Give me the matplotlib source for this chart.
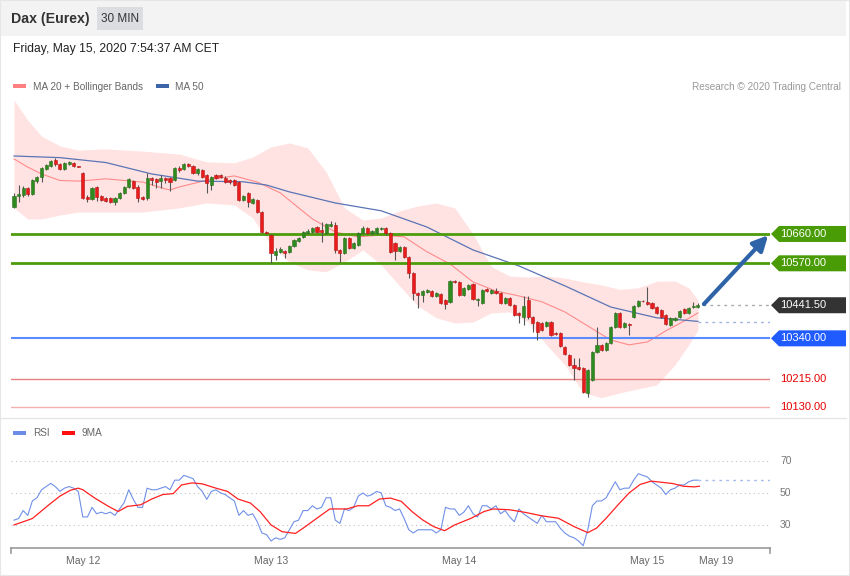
import numpy as np
import matplotlib.pyplot as plt
from matplotlib.patches import Polygon, Rectangle
from matplotlib.lines import Line2D
from matplotlib.transforms import IdentityTransform

plt.rcParams['font.family'] = ['Liberation Sans', 'DejaVu Sans']

# Dax (Eurex) 30 min candles, May 11 afternoon -> May 15 morning
opens = [10743, 10776, 10779, 10801, 10783, 10822, 10835, 10859, 10868, 10887,
         10875, 10859, 10875, 10878, 10866, 10847, 10773, 10767, 10804, 10776,
         10770, 10770, 10758, 10770, 10786, 10804, 10822, 10804, 10773, 10770,
         10832, 10829, 10822, 10832, 10832, 10825, 10862, 10859, 10875, 10868,
         10847, 10856, 10841, 10810, 10841, 10841, 10832, 10825, 10825, 10819,
         10764, 10786, 10755, 10764, 10727, 10666, 10657, 10596, 10605, 10608,
         10605, 10623, 10639, 10651, 10663, 10666, 10682, 10672, 10663, 10685,
         10688, 10611, 10602, 10648, 10617, 10626, 10663, 10678, 10663, 10663,
         10675, 10678, 10663, 10632, 10608, 10620, 10590, 10541, 10479, 10473,
         10482, 10485, 10470, 10476, 10458, 10452, 10516, 10513, 10473, 10492,
         10507, 10458, 10449, 10492, 10479, 10485, 10479, 10449, 10464, 10442,
         10418, 10406, 10458, 10406, 10390, 10387, 10378, 10390, 10357, 10357,
         10314, 10289, 10259, 10253, 10249, 10173, 10213, 10298, 10320, 10305,
         10326, 10375, 10418, 10375, 10384, 10406, 10439, 10455, 10452, 10449,
         10436, 10427, 10412, 10381, 10397, 10406, 10430, 10418, 10436, 10436]
closes = [10776, 10783, 10801, 10783, 10825, 10835, 10862, 10871, 10884, 10875,
          10859, 10878, 10881, 10868, 10865, 10770, 10767, 10801, 10773, 10764,
          10761, 10758, 10770, 10786, 10804, 10829, 10801, 10770, 10767, 10832,
          10825, 10819, 10832, 10825, 10819, 10862, 10856, 10875, 10868, 10847,
          10859, 10835, 10816, 10835, 10832, 10835, 10819, 10819, 10810, 10764,
          10776, 10758, 10767, 10727, 10666, 10663, 10602, 10608, 10614, 10602,
          10623, 10642, 10648, 10666, 10669, 10678, 10666, 10666, 10691, 10691,
          10611, 10602, 10648, 10617, 10632, 10663, 10678, 10663, 10669, 10678,
          10678, 10663, 10605, 10608, 10620, 10590, 10541, 10479, 10473, 10485,
          10488, 10470, 10479, 10449, 10446, 10516, 10513, 10473, 10495, 10504,
          10461, 10461, 10488, 10485, 10488, 10479, 10449, 10464, 10442, 10412,
          10412, 10439, 10406, 10387, 10360, 10366, 10390, 10351, 10354, 10317,
          10292, 10259, 10249, 10246, 10176, 10243, 10298, 10320, 10305, 10326,
          10375, 10418, 10375, 10387, 10381, 10439, 10455, 10454, 10446, 10433,
          10418, 10406, 10384, 10403, 10403, 10424, 10418, 10433, 10439, 10441.5]
highs = [10786, 10810, 10807, 10804, 10829, 10838, 10865, 10875, 10887, 10893,
         10878, 10881, 10884, 10881, 10867, 10850, 10779, 10804, 10807, 10779,
         10773, 10773, 10773, 10789, 10807, 10832, 10825, 10810, 10776, 10847,
         10835, 10832, 10841, 10835, 10835, 10865, 10868, 10878, 10878, 10871,
         10862, 10859, 10844, 10838, 10844, 10844, 10838, 10829, 10829, 10822,
         10779, 10789, 10770, 10767, 10731, 10669, 10660, 10617, 10620, 10611,
         10626, 10645, 10651, 10669, 10675, 10682, 10685, 10697, 10694, 10700,
         10697, 10614, 10651, 10651, 10636, 10666, 10685, 10682, 10672, 10682,
         10682, 10682, 10666, 10636, 10623, 10623, 10593, 10544, 10482, 10488,
         10492, 10488, 10482, 10479, 10461, 10519, 10519, 10516, 10498, 10507,
         10510, 10464, 10492, 10495, 10492, 10495, 10482, 10467, 10467, 10446,
         10421, 10470, 10470, 10409, 10393, 10390, 10393, 10393, 10360, 10360,
         10317, 10292, 10280, 10280, 10253, 10246, 10302, 10375, 10323, 10329,
         10378, 10421, 10421, 10390, 10387, 10442, 10458, 10458, 10498, 10452,
         10439, 10430, 10415, 10406, 10406, 10427, 10433, 10436, 10452, 10449]
lows = [10740, 10758, 10773, 10776, 10779, 10816, 10819, 10856, 10865, 10868,
        10856, 10856, 10871, 10865, 10864, 10767, 10758, 10764, 10761, 10761,
        10758, 10755, 10749, 10767, 10783, 10801, 10798, 10758, 10764, 10764,
        10810, 10801, 10801, 10816, 10792, 10822, 10850, 10856, 10865, 10844,
        10841, 10832, 10786, 10795, 10829, 10832, 10816, 10813, 10807, 10761,
        10761, 10743, 10752, 10724, 10663, 10660, 10571, 10580, 10602, 10587,
        10602, 10620, 10636, 10648, 10660, 10663, 10663, 10636, 10660, 10682,
        10602, 10574, 10599, 10614, 10614, 10623, 10660, 10660, 10657, 10660,
        10672, 10657, 10602, 10580, 10605, 10587, 10525, 10458, 10433, 10452,
        10479, 10467, 10467, 10446, 10430, 10449, 10510, 10470, 10470, 10488,
        10458, 10439, 10446, 10482, 10476, 10476, 10446, 10446, 10439, 10409,
        10387, 10381, 10400, 10360, 10335, 10363, 10375, 10348, 10351, 10314,
        10289, 10256, 10213, 10243, 10173, 10161, 10210, 10295, 10302, 10302,
        10323, 10372, 10372, 10372, 10351, 10403, 10436, 10452, 10442, 10430,
        10415, 10403, 10381, 10378, 10393, 10403, 10415, 10415, 10433, 10433]

# indicators (read at selected candle positions)
ma50_idx = [0, 10, 20, 30, 40, 50, 55, 60, 70, 80, 90, 100, 110, 120, 130, 140, 149]
ma50 = [10899, 10894, 10879, 10844, 10822, 10820, 10810, 10789, 10755, 10731,
        10681, 10611, 10562, 10501, 10436, 10403, 10392]
ma20_idx = [0, 3, 6, 10, 14, 20, 28, 33, 34, 36, 42, 48, 53, 58, 65, 70, 75, 80,
            85, 90, 95, 100, 105, 110, 115, 120, 125, 130, 134, 138, 142, 146, 149]
ma20 = [10890, 10865, 10844, 10824, 10822, 10829, 10819, 10798, 10795, 10804,
        10825, 10838, 10819, 10786, 10706, 10666, 10651, 10657, 10651, 10605,
        10568, 10513, 10485, 10470, 10452, 10421, 10378, 10335, 10320, 10329,
        10363, 10393, 10418]
bb_idx = [0, 3, 6, 10, 14, 20, 28, 36, 42, 48, 52, 56, 60, 64, 68, 72, 76, 80,
          84, 88, 92, 96, 100, 104, 108, 112, 116, 120, 124, 128, 132, 136, 140,
          144, 147, 149]
bb_upper = [11071, 11009, 10960, 10930, 10917, 10921, 10914, 10905, 10881, 10878,
            10896, 10927, 10939, 10924, 10850, 10740, 10703, 10709, 10731, 10746,
            10755, 10740, 10660, 10560, 10531, 10528, 10531, 10525, 10513, 10504,
            10490, 10495, 10515, 10516, 10495, 10458]
bb_lower = [10740, 10706, 10706, 10718, 10727, 10727, 10727, 10740, 10755, 10749,
            10709, 10626, 10574, 10550, 10544, 10574, 10611, 10565, 10501, 10439,
            10403, 10387, 10390, 10418, 10421, 10390, 10320, 10259, 10173, 10158,
            10173, 10185, 10197, 10259, 10320, 10366]

rsi = [33, 34, 39, 36, 45, 47, 52, 54, 56, 54, 51, 53, 54, 53, 51, 35, 35, 41, 37, 38,
       37, 38, 36, 40, 44, 52, 46, 41, 41, 53, 52, 52, 53, 54, 52, 58, 58, 61, 60, 59,
       54, 51, 46, 51, 52, 50, 49, 47, 45, 36, 39, 36, 37, 32, 25, 24, 20, 22, 21, 22,
       27, 32, 33, 39, 39, 42, 40, 41, 47, 47, 33, 31, 40, 39, 41, 48, 50, 48, 49, 51,
       50, 42, 41, 39, 40, 34, 27, 25, 27, 27, 27, 27, 25, 27, 41, 40, 40, 36, 38, 42,
       37, 35, 42, 42, 40, 42, 37, 39, 35, 32, 40, 37, 35, 33, 31, 36, 32, 32, 32, 28,
       25, 23, 22, 20, 17, 27, 42, 45, 45, 47, 52, 57, 52, 53, 53, 58, 62, 61, 60, 57,
       55, 53, 49, 52, 53, 55, 55, 57, 58, 58]
rsi_ma_idx = [0, 4, 7.6, 10, 12.3, 14, 15, 17.6, 20.6, 22.7, 24.7, 27.6, 30, 32.4,
              34.7, 36.5, 38.8, 41, 44, 46.5, 48.8, 51.5, 53.6, 56, 58.4, 61.3, 63,
              65.5, 68.8, 72.5, 74.9, 77.3, 79.6, 82, 84.4, 86.7, 89, 91.4, 93.8, 96,
              99.6, 102.4, 104.4, 108, 111.5, 115, 118.6, 122, 125, 126.9, 129, 131.6,
              134, 136.4, 138.8, 141, 143.5, 145.8, 148.2, 149.3]
rsi_ma = [30, 34, 42.6, 48, 51.7, 53, 52, 46.8, 41.6, 38.4, 41.6, 42.6, 46.2, 49,
          49.6, 55, 56.3, 55.7, 53, 51, 46.2, 43.7, 38.4, 30, 25.8, 24.7, 28, 33.2,
          40, 40, 42, 42, 46.2, 46.8, 44.7, 38.4, 33.2, 29, 26.4, 30, 34.2, 38.4, 40,
          39.5, 37.8, 35.7, 34.2, 29, 25.2, 28, 34.2, 42.6, 50, 55.3, 57.4, 56.7,
          55.9, 54.2, 53.8, 54.2]

levels = [10660, 10570, 10441.5, 10340, 10215, 10130]
level_labels = ['10660.00', '10570.00', '10441.50', '10340.00', '10215.00', '10130.00']
day_pos = [15, 56, 97, 138, 153]
day_labels = ['May 12', 'May 13', 'May 14', 'May 15', 'May 19']

W, H = 850, 576
fig = plt.figure(figsize=(W / 100, H / 100), dpi=100)
fig.patch.set_facecolor('white')

def fx(x):
    return x / W

def fy(y):
    return 1 - y / H

# header
fig.add_artist(Rectangle((fx(1), fy(36)), fx(845), 36 / H, color='#f3f3f3', lw=0))
fig.add_artist(Rectangle((fx(97), fy(30)), fx(46), 23 / H, color='#dcdde1', lw=0))
fig.add_artist(Rectangle((0, 0), 1, 1, fill=False, ec='#e6e6e6', lw=1.5))
fig.text(fx(11), fy(19), 'Dax (Eurex)', fontsize=10.2, fontweight='bold', color='#333333', va='center')
fig.text(fx(120), fy(19), '30 MIN', fontsize=8.5, color='#333333', va='center', ha='center')
fig.text(fx(13), fy(49), 'Friday, May 15, 2020 7:54:37 AM CET', fontsize=8.7, color='#222222', va='center')

# legend top
fig.add_artist(Rectangle((fx(13), fy(88)), fx(13), 4 / H, color='#ff8080', lw=0))
fig.text(fx(33), fy(86.5), 'MA 20 + Bollinger Bands', fontsize=7.2, color='#666666', va='center')
fig.add_artist(Rectangle((fx(156), fy(88)), fx(13), 4 / H, color='#3c64a8', lw=0))
fig.text(fx(175), fy(86.5), 'MA 50', fontsize=7.2, color='#666666', va='center')
fig.text(fx(841), fy(86.5), 'Research \u00a9 2020 Trading Central', fontsize=7.2, color='#999999',
         va='center', ha='right')

# main chart
ax = fig.add_axes([fx(11), fy(415), fx(759), 320 / H])
ax.set_xlim(-0.65, 164.7)
ax.set_ylim(10105, 11086)
ax.axis('off')

ax.fill_between(bb_idx, bb_lower, bb_upper, color='#ffe3e3', lw=0, zorder=1)
ax.plot(ma20_idx, ma20, color='#ff8a8a', lw=0.8, zorder=2)
ax.plot(ma50_idx, ma50, color='#5a74b4', lw=0.9, zorder=2)
ax.plot([149, 164.7], [10389, 10389], color='#9fb4e0', lw=1, ls=(0, (2, 3)), zorder=2)
ax.plot([150, 164.7], [10441.5, 10441.5], color='#aaaaaa', lw=1, ls=(0, (2, 3)), zorder=2)

ax.axhline(10660, color='#4c9c0c', lw=2, zorder=2)
ax.axhline(10570, color='#4c9c0c', lw=2, zorder=2)
ax.axhline(10340, color='#5b8cff', lw=1.5, zorder=2)
ax.axhline(10215, color='#e88080', lw=1, zorder=2)
ax.axhline(10130, color='#f4b0b0', lw=1, zorder=2)

idx = np.arange(len(closes))
o = np.array(opens, dtype=float)
c = np.array(closes, dtype=float)
up = c >= o
ax.vlines(idx, lows, highs, color='#555555', lw=0.8, zorder=3)
body_h = np.maximum(np.abs(c - o), 2)
body_b = np.minimum(o, c)
ax.bar(idx[up], body_h[up], bottom=body_b[up], width=0.68, color='#2f8a1f',
       edgecolor='#2a6e1c', lw=0.4, zorder=4)
ax.bar(idx[~up], body_h[~up], bottom=body_b[~up], width=0.68, color='#e81c1c',
       edgecolor='#b51515', lw=0.4, zorder=4)

ax.annotate('', xy=(164.3, 10656), xytext=(150.3, 10445),
            arrowprops=dict(arrowstyle='-|>,head_length=0.9,head_width=0.45', lw=3,
                            color='#2f63a8', shrinkA=0, shrinkB=0), zorder=5)

# level tags on the right
fig.canvas.draw()
tag_bg = ['#4a9c06', '#4a9c06', '#333333', '#1f5bff', None, None]
for lv, lab, bg in zip(levels, level_labels, tag_bg):
    yd = ax.transData.transform((0, lv))[1]
    if bg is not None:
        pts = [(771, yd), (779, yd + 8), (846, yd + 8), (846, yd - 8), (779, yd - 8)]
        fig.add_artist(Polygon(pts, closed=True, color=bg, lw=0, transform=IdentityTransform()))
        fig.text(780, yd, lab, fontsize=8, color='white', va='center', transform=IdentityTransform())
    else:
        fig.text(780, yd, lab, fontsize=8, color='#e60000', va='center', transform=IdentityTransform())

fig.add_artist(Line2D([fx(1), fx(846)], [fy(418), fy(418)], color='#e6e6e6', lw=1))

# RSI panel
fig.add_artist(Rectangle((fx(13), fy(435)), fx(13), 4 / H, color='#6b8be6', lw=0))
fig.text(fx(33), fy(433.5), 'RSI', fontsize=7.2, color='#666666', va='center')
fig.add_artist(Rectangle((fx(62), fy(435)), fx(13), 4 / H, color='#ff1010', lw=0))
fig.text(fx(82), fy(433.5), '9MA', fontsize=7.2, color='#666666', va='center')

ax2 = fig.add_axes([fx(11), fy(548), fx(759), 108 / H])
ax2.set_xlim(-0.65, 164.7)
ax2.set_ylim(15.6, 83.1)
for s in ['top', 'right', 'left']:
    ax2.spines[s].set_visible(False)
ax2.spines['bottom'].set_color('#999999')
ax2.spines['bottom'].set_linewidth(1.2)
for g in [30, 50, 70]:
    ax2.axhline(g, color='#c0c0c0', lw=0.8, ls=(0, (1, 3)), zorder=1)
    fig.text(780, ax2.transData.transform((0, g))[1], str(g), fontsize=7.5, color='#777777',
             va='center', transform=IdentityTransform())
ax2.plot(np.arange(len(rsi)), rsi, color='#7090e8', lw=0.8, zorder=3)
ax2.plot([149, 164.7], [58, 58], color='#a8bcf0', lw=1, ls=(0, (2, 3)), zorder=2)
ax2.plot(rsi_ma_idx, rsi_ma, color='#ff2020', lw=0.9, zorder=4)
ax2.set_yticks([])
ax2.set_xticks(day_pos)
ax2.set_xticklabels(day_labels, fontsize=7.5, color='#666666')
ax2.tick_params(axis='x', length=0, pad=6)
for xe in [11, 770]:
    fig.add_artist(Line2D([fx(xe), fx(xe)], [fy(548), fy(553)], color='#999999', lw=1.2))

fig.savefig('out.png', dpi=100)
